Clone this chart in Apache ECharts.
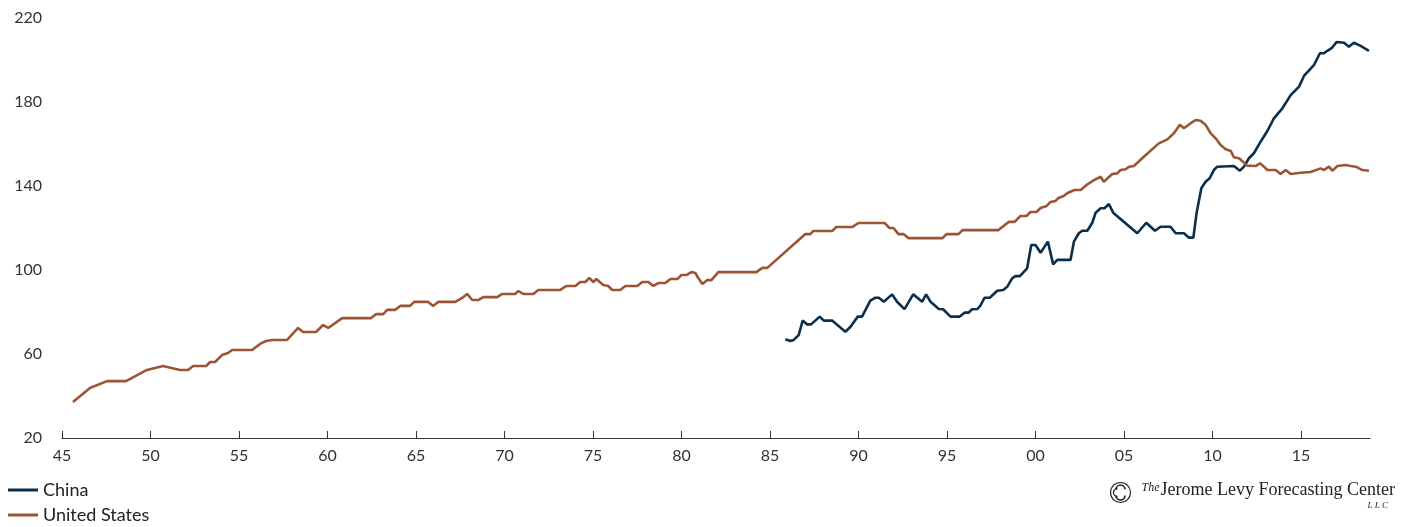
<!DOCTYPE html>
<html>
<head>
<meta charset="utf-8">
<script src="https://cdn.jsdelivr.net/npm/echarts@6/dist/echarts.min.js"></script>
<style>
  html, body { margin: 0; padding: 0; background: #fff; }
  #chart { width: 1408px; height: 527px; }
</style>
</head>
<body>
<div id="chart"></div>
<script>
// x tick positions (years) and their two-digit labels
const xTicks = [1945, 1950, 1955, 1960, 1965, 1970, 1975, 1980, 1985, 1990, 1995, 2000, 2005, 2010, 2015];
const yTicks = [20, 60, 100, 140, 180, 220];

// [year, index value]
const usData = [
  [1945.62, 37.1], [1946.58, 43.8], [1947.54, 47.1], [1948.62, 47.1], [1949.8, 52.4],
  [1950.71, 54.3], [1951.67, 52.4], [1952.12, 52.4], [1952.41, 54.3], [1953.14, 54.3],
  [1953.37, 56.2], [1953.65, 56.2], [1954.04, 59.5], [1954.38, 60.5], [1954.61, 61.9],
  [1955.74, 61.9], [1956.19, 64.8], [1956.53, 66.2], [1956.87, 66.7], [1957.72, 66.7],
  [1958.34, 72.4], [1958.62, 70.5], [1959.36, 70.5], [1959.75, 73.8], [1960.04, 72.4],
  [1960.83, 77.1], [1962.47, 77.1], [1962.75, 79.0], [1963.15, 79.0], [1963.37, 81.0],
  [1963.82, 81.0], [1964.11, 82.9], [1964.67, 82.9], [1964.9, 84.8], [1965.69, 84.8],
  [1965.97, 82.9], [1966.25, 84.8], [1967.22, 84.8], [1967.61, 86.7], [1967.89, 88.6],
  [1968.18, 85.7], [1968.52, 85.7], [1968.8, 87.1], [1969.59, 87.1], [1969.87, 88.6],
  [1970.61, 88.6], [1970.78, 90.0], [1971.06, 88.6], [1971.63, 88.6], [1971.91, 90.5],
  [1973.15, 90.5], [1973.49, 92.4], [1974.0, 92.4], [1974.28, 94.3], [1974.56, 94.3],
  [1974.79, 96.2], [1975.02, 94.3], [1975.19, 95.7], [1975.58, 92.9], [1975.86, 92.4],
  [1976.09, 90.5], [1976.54, 90.5], [1976.83, 92.4], [1977.5, 92.4], [1977.79, 94.3],
  [1978.13, 94.3], [1978.41, 92.4], [1978.69, 93.8], [1979.09, 93.8], [1979.37, 95.7],
  [1979.77, 95.7], [1979.99, 97.6], [1980.27, 97.6], [1980.56, 99.0], [1980.78, 98.6],
  [1980.95, 96.2], [1981.18, 93.3], [1981.46, 95.2], [1981.69, 95.2], [1982.08, 99.0],
  [1984.23, 99.0], [1984.57, 101.0], [1984.85, 101.0], [1987.0, 117.1], [1987.28, 117.1],
  [1987.45, 118.6], [1988.53, 118.6], [1988.75, 120.5], [1989.66, 120.5], [1990.0, 122.4],
  [1991.47, 122.4], [1991.75, 120.0], [1991.98, 120.0], [1992.26, 117.1], [1992.54, 117.1],
  [1992.82, 115.2], [1994.75, 115.2], [1994.97, 117.1], [1995.65, 117.1], [1995.88, 119.0],
  [1997.91, 119.0], [1998.48, 122.9], [1998.82, 122.9], [1999.15, 125.7], [1999.49, 125.7],
  [1999.72, 127.6], [2000.06, 127.6], [2000.29, 129.5], [2000.63, 130.5], [2000.85, 132.4],
  [2001.13, 132.9], [2001.3, 134.3], [2001.59, 135.2], [2001.81, 136.7], [2002.21, 138.1],
  [2002.55, 138.1], [2002.89, 140.5], [2003.23, 142.4], [2003.68, 144.4], [2003.86, 142.0],
  [2004.34, 145.7], [2004.62, 146.0], [2004.81, 147.6], [2005.1, 148.0], [2005.28, 149.2],
  [2005.56, 149.5], [2006.2, 154.5], [2006.97, 160.3], [2007.45, 162.2], [2007.82, 165.1],
  [2008.16, 169.2], [2008.39, 167.5], [2008.77, 169.9], [2009.05, 171.4], [2009.33, 171.1],
  [2009.62, 169.0], [2009.9, 165.1], [2010.18, 162.7], [2010.46, 159.5], [2010.75, 157.5],
  [2011.03, 156.7], [2011.21, 153.7], [2011.5, 153.2], [2011.97, 149.7], [2012.44, 149.5],
  [2012.68, 150.8], [2012.91, 149.2], [2013.1, 147.6], [2013.57, 147.6], [2013.85, 145.7],
  [2014.13, 147.6], [2014.42, 145.7], [2014.98, 146.3], [2015.55, 146.7], [2016.11, 148.4],
  [2016.3, 147.6], [2016.58, 149.2], [2016.77, 147.3], [2017.06, 149.5], [2017.53, 150.0],
  [2017.81, 149.5], [2018.1, 149.2], [2018.47, 147.6], [2018.84, 147.3]
];

const chinaData = [
  [1985.87, 67.0], [1986.15, 66.2], [1986.34, 66.7], [1986.62, 69.0], [1986.85, 75.9],
  [1987.1, 74.1], [1987.32, 74.1], [1987.81, 77.8], [1988.04, 75.9], [1988.51, 75.9],
  [1989.26, 70.6], [1989.55, 73.0], [1989.96, 77.8], [1990.2, 77.8], [1990.67, 85.4],
  [1990.96, 86.8], [1991.15, 86.8], [1991.43, 84.9], [1991.9, 88.4], [1992.18, 84.9],
  [1992.6, 81.4], [1993.09, 88.4], [1993.6, 84.9], [1993.82, 88.4], [1994.07, 84.9],
  [1994.54, 81.4], [1994.78, 81.3], [1995.2, 77.8], [1995.72, 77.8], [1995.99, 79.7],
  [1996.23, 79.7], [1996.42, 81.3], [1996.71, 81.4], [1996.89, 83.0], [1997.12, 86.8],
  [1997.42, 86.8], [1997.84, 90.1], [1998.18, 90.5], [1998.4, 92.0], [1998.68, 96.0],
  [1998.87, 97.1], [1999.12, 97.1], [1999.53, 100.8], [1999.76, 111.9], [2000.0, 111.9],
  [2000.29, 108.2], [2000.7, 113.5], [2001.0, 102.7], [2001.23, 104.8], [2001.98, 104.8],
  [2002.17, 113.5], [2002.45, 117.5], [2002.64, 118.7], [2002.93, 118.7], [2003.21, 122.5],
  [2003.4, 127.3], [2003.68, 129.4], [2003.9, 129.4], [2004.15, 131.4], [2004.39, 127.3],
  [2005.75, 117.5], [2006.26, 122.5], [2006.75, 118.7], [2007.07, 120.6], [2007.63, 120.6],
  [2007.92, 117.5], [2008.39, 117.5], [2008.67, 115.4], [2008.92, 115.4], [2009.1, 127.0],
  [2009.37, 138.9], [2009.61, 142.0], [2009.84, 143.7], [2010.08, 147.6], [2010.27, 149.2],
  [2011.21, 149.5], [2011.31, 149.2], [2011.55, 147.3], [2011.78, 149.2], [2012.06, 153.2],
  [2012.34, 155.6], [2012.72, 161.1], [2013.1, 166.2], [2013.47, 172.2], [2013.95, 177.0],
  [2014.42, 183.3], [2014.89, 187.3], [2015.17, 192.4], [2015.73, 197.6], [2016.07, 203.2],
  [2016.3, 203.2], [2016.49, 204.4], [2016.73, 205.6], [2017.02, 208.6], [2017.43, 208.2],
  [2017.71, 206.3], [2017.99, 208.2], [2018.37, 206.7], [2018.84, 204.4]
];

const CHINA = "#0b2f4b";
const US = "#9b5535";

const chart = echarts.init(document.getElementById("chart"));

chart.setOption({
  animation: false,
  textStyle: { fontFamily: "Lato, 'Open Sans', sans-serif" },
  grid: { left: 62, right: 38, top: 18, bottom: 89, containLabel: false },
  legend: {
    orient: "vertical",
    left: 3,
    bottom: -2,
    itemGap: 7,
    itemWidth: 30,
    itemHeight: 3,
    icon: "rect",
    textStyle: { fontSize: 18, color: "#222", padding: [0, 0, 0, 0] },
    data: ["China", "United States"]
  },
  xAxis: {
    type: "value",
    min: 1945,
    max: 2018.9,
    interval: 5,
    axisLine: { show: true, lineStyle: { color: "#333", width: 1.2 } },
    axisTick: { show: true, inside: true, length: 7, lineStyle: { color: "#333" }, customValues: xTicks },
    axisLabel: {
      customValues: xTicks,
      color: "#333",
      fontSize: 16,
      margin: 10,
      formatter: (v) => String(Math.round(v) % 100).padStart(2, "0")
    },
    splitLine: { show: false }
  },
  yAxis: {
    type: "value",
    min: 20,
    max: 220,
    interval: 40,
    axisLine: { show: false },
    axisTick: { show: false },
    splitLine: { show: false },
    axisLabel: { color: "#333", fontSize: 16, margin: 20, customValues: yTicks }
  },
  series: [
    {
      name: "China",
      type: "line",
      data: chinaData,
      showSymbol: false,
      symbol: "none",
      itemStyle: { color: CHINA },
      lineStyle: { color: CHINA, width: 2.6 }
    },
    {
      name: "United States",
      type: "line",
      data: usData,
      showSymbol: false,
      symbol: "none",
      itemStyle: { color: US },
      lineStyle: { color: US, width: 2.6 }
    }
  ],
  graphic: [
    {
      type: "group",
      left: 1108,
      top: 480,
      children: [
        { type: "circle", shape: { cx: 11, cy: 11, r: 10 }, style: { fill: "none", stroke: "#222", lineWidth: 1.2 } },
        { type: "arc", shape: { cx: 11, cy: 8, r: 4.5, startAngle: Math.PI, endAngle: Math.PI * 2 }, style: { fill: "none", stroke: "#222", lineWidth: 1.6 } },
        { type: "arc", shape: { cx: 11, cy: 14, r: 4.5, startAngle: 0, endAngle: Math.PI }, style: { fill: "none", stroke: "#222", lineWidth: 1.6 } },
        { type: "arc", shape: { cx: 8, cy: 11, r: 4, startAngle: Math.PI * 0.5, endAngle: Math.PI * 1.5 }, style: { fill: "none", stroke: "#222", lineWidth: 1.3 } },
        { type: "text", left: 32, top: 0, style: { text: "The", font: "italic 12px 'Liberation Serif', serif", fill: "#222" } },
        { type: "text", left: 51, top: 0, style: { text: "Jerome Levy Forecasting Center", font: "18px 'Liberation Serif', serif", fill: "#222" } },
        { type: "text", left: 258, top: 20, style: { text: "L L C", font: "italic 9px 'Liberation Serif', serif", fill: "#222" } }
      ]
    }
  ]
});
</script>
</body>
</html>
